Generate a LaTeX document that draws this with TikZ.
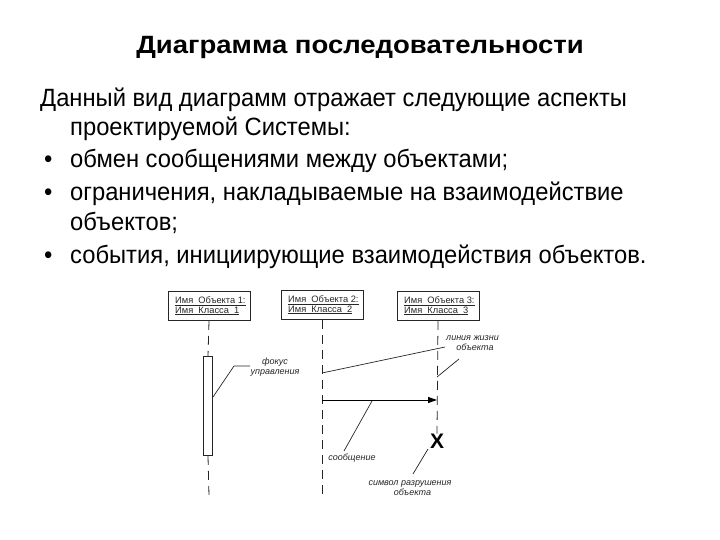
\documentclass[tikz,border=0pt]{standalone}
\usepackage{fontspec}
\setmainfont{Liberation Sans}
\newfontfamily\bodyfont[FakeStretch=0.95]{Liberation Sans}
\newfontfamily\titlefont[FakeStretch=1.1]{Liberation Sans}
\usetikzlibrary{arrows.meta}
\tikzset{
  titletext/.style={font=\titlefont\fontsize{25}{29}\selectfont\bfseries, anchor=base},
  bodytext/.style={font=\bodyfont\fontsize{25}{29}\selectfont, anchor=base west, inner sep=0pt},
  objbox/.style={draw=black!85, line width=0.8pt, inner sep=0pt, minimum width=82pt, minimum height=29pt},
  boxtext/.style={font=\fontsize{9.3}{10.5}\selectfont, align=left, anchor=west, inner sep=0pt, text=black!85},
  lifeline/.style={draw=black!85, line width=0.8pt, dash pattern=on 9pt off 6pt},
  note/.style={font=\fontsize{9}{10.5}\selectfont\itshape, text=black!85, inner sep=0pt, align=center},
  leader/.style={draw=black!85, line width=0.7pt},
  msg/.style={draw=black, line width=1pt, -{Triangle[length=9pt,width=6pt]}},
}
\begin{document}
\begin{tikzpicture}[x=1pt,y=-1pt]
\useasboundingbox (0,0) rectangle (720,540);
% title
\node[titletext] (title) at (360,54) {Диаграмма последовательности};
% body
\node[bodytext] (l1) at (40,107) {Данный вид диаграмм отражает следующие аспекты};
\node[bodytext] (l2) at (70,136) {проектируемой Системы:};
\node[bodytext] (b1) at (44,168) {•};
\node[bodytext] (l3) at (70,168) {обмен сообщениями между объектами;};
\node[bodytext] (b2) at (44,201) {•};
\node[bodytext] (l4) at (70,201) {ограничения, накладываемые на взаимодействие};
\node[bodytext] (l5) at (70,230) {объектов;};
\node[bodytext] (b3) at (44,263) {•};
\node[bodytext] (l6) at (70,263) {события, инициирующие взаимодействия объектов.};
% object boxes
\node[objbox] (o1) at (209,306) {};
\node[boxtext] (t1) at (175,306) {\underline{Имя\ \ Объекта\ 1:}\\[-1pt]\underline{Имя\ \ Класса\ \ 1}};
\node[objbox] (o2) at (322,305) {};
\node[boxtext] (t2) at (288,305) {\underline{Имя\ \ Объекта\ 2:}\\[-1pt]\underline{Имя\ \ Класса\ \ 2}};
\node[objbox] (o3) at (438,306) {};
\node[boxtext] (t3) at (404,306) {\underline{Имя\ \ Объекта\ 3:}\\[-1pt]\underline{Имя\ \ Класса\ \ 3}};
% lifeline ends
\coordinate (e1) at (209,496);
\coordinate (e2) at (322,498);
% activation bar
\node[draw=black!85, line width=0.8pt, fill=white, minimum width=9pt, minimum height=99pt, inner sep=0pt] (act) at (208,406) {};
% destruction
\node[font=\fontsize{21}{21}\selectfont\bfseries, inner sep=0pt] (x3) at (437,441) {X};
% lifelines
\draw[lifeline] (o1.south) -- (act.north);
\draw[lifeline] (act.south) -- (e1);
\draw[lifeline] (o2.south) -- (e2);
\draw[lifeline] (o3.south) -- (x3.north);
% message
\coordinate (m1) at (322,400);
\coordinate (m2) at (437,400);
\draw[msg] (m1) -- (m2);
% labels
\node[note] (fok) at (275,367) {фокус\\управления};
\node[note, anchor=west] (lz) at (446,343) {линия жизни\\\ \ объекта};
\node[note] (soob) at (352,458) {сообщение};
\node[note] (sr) at (410,488) {символ разрушения\\\ \ объекта};
% leaders
\coordinate (f1) at (213,397);
\coordinate (f2) at (234,366);
\coordinate (f3) at (250,366);
\draw[leader] (f1) -- (f2) -- (f3);
\coordinate (lz1) at (322,373);
\coordinate (lz2) at (445,347);
\draw[leader] (lz1) -- (lz2);
\coordinate (lz3) at (437,377);
\coordinate (lz4) at (459,359);
\draw[leader] (lz3) -- (lz4);
\coordinate (s1) at (344,451);
\coordinate (s2) at (372,401);
\draw[leader] (s1) -- (s2);
\coordinate (d1) at (413,474);
\coordinate (d2) at (428,449);
\draw[leader] (d1) -- (d2);
\end{tikzpicture}
\end{document}
